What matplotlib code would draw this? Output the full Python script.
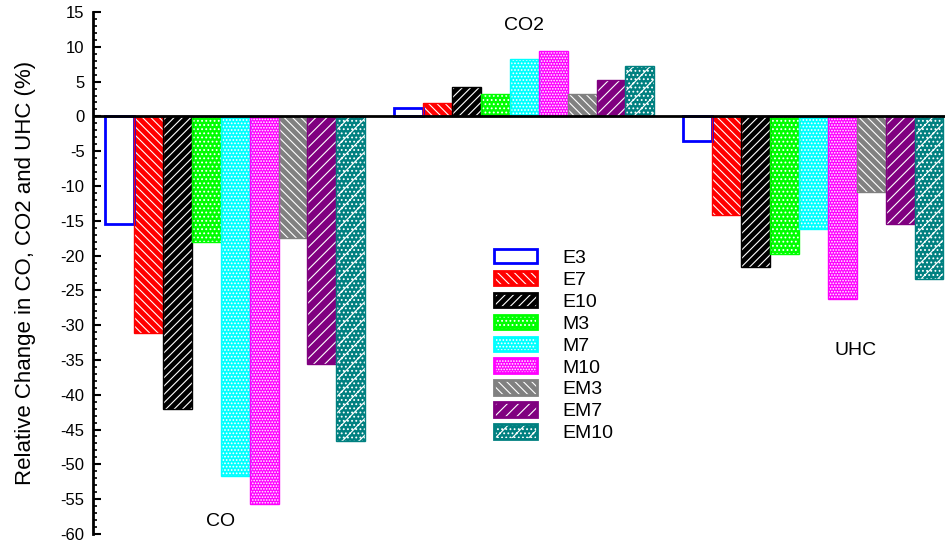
import numpy as np
import matplotlib
matplotlib.use("Agg")
import matplotlib.pyplot as plt
from matplotlib.patches import Patch
from matplotlib.legend_handler import HandlerTuple

plt.rcParams['font.family'] = ['Liberation Sans', 'DejaVu Sans']
plt.rcParams['axes.unicode_minus'] = False
plt.rcParams['hatch.linewidth'] = 0.8

groups = ["CO", "CO2", "UHC"]
fuels = ["E3", "E7", "E10", "M3", "M7", "M10", "EM3", "EM7", "EM10"]
co = [-15.5, -31.2, -42.1, -18.0, -51.7, -55.7, -17.5, -35.6, -46.7]
co2 = [1.2, 1.9, 4.2, 3.2, 8.2, 9.4, 3.2, 5.3, 7.3]
uhc = [-3.5, -14.1, -21.6, -19.8, -16.2, -26.2, -10.9, -15.4, -23.3]

colors = ["white", "red", "black", "#00ff00", "cyan", "magenta", "gray", "purple", "teal"]
edges = ["blue", "red", "black", "#00ff00", "cyan", "magenta", "gray", "purple", "teal"]
hatches = [None, "\\\\\\\\", "////", "....", ".....", "......", "\\\\\\\\", "///", "//...."]

fig = plt.figure(figsize=(9.49, 5.47), dpi=100)
ax = fig.add_axes([0.098, 0.024, 0.898, 0.954])

data = [co, co2, uhc]
handles = []
for i in range(len(fuels)):
    vals = [d[i] for d in data]
    x = np.arange(3) * 10 + i
    # fill + white hatch
    ax.bar(x, vals, width=1.0, color=colors[i], edgecolor="white",
           hatch=hatches[i], linewidth=0, zorder=2)
    # coloured outline
    ax.bar(x, vals, width=1.0, fill=False, edgecolor=edges[i],
           linewidth=2 if i == 0 else 1, zorder=3)
    handles.append((Patch(facecolor=colors[i], edgecolor="white", hatch=hatches[i], linewidth=0),
                    Patch(fill=False, edgecolor=edges[i], linewidth=2)))

ax.axhline(0, color="black", linewidth=2, zorder=4)

ax.set_xlim(-0.92, 28.56)
ax.set_ylim(-60, 15)
ax.set_yticks(np.arange(-60, 16, 5))
ax.set_yticks(np.arange(-60, 16, 1), minor=True)
ax.tick_params(axis="y", direction="in", length=6, width=1.5, labelsize=12, pad=6)
ax.tick_params(axis="y", which="minor", direction="in", length=3, width=1.2)
ax.set_xticks([])
for s in ["top", "right", "bottom"]:
    ax.spines[s].set_visible(False)
ax.spines["left"].set_linewidth(2)
ax.set_ylabel("Relative Change in CO, CO2 and UHC (%)", fontsize=16, labelpad=18)

ax.text(3.48, -58.2, groups[0], fontsize=14, ha="center", va="center")
ax.text(14.0, 13.0, groups[1], fontsize=14, ha="center", va="center")
ax.text(25.45, -33.7, groups[2], fontsize=14, ha="center", va="center")

leg = ax.legend(handles, fuels, loc="upper left", bbox_to_anchor=(0.4707, 0.546),
                frameon=False, fontsize=14, handlelength=2.2, handleheight=0.77,
                labelspacing=0.2, handletextpad=1.3, borderpad=0, borderaxespad=0,
                handler_map={tuple: HandlerTuple(ndivide=1)})

fig.savefig("out.png", dpi=100)
